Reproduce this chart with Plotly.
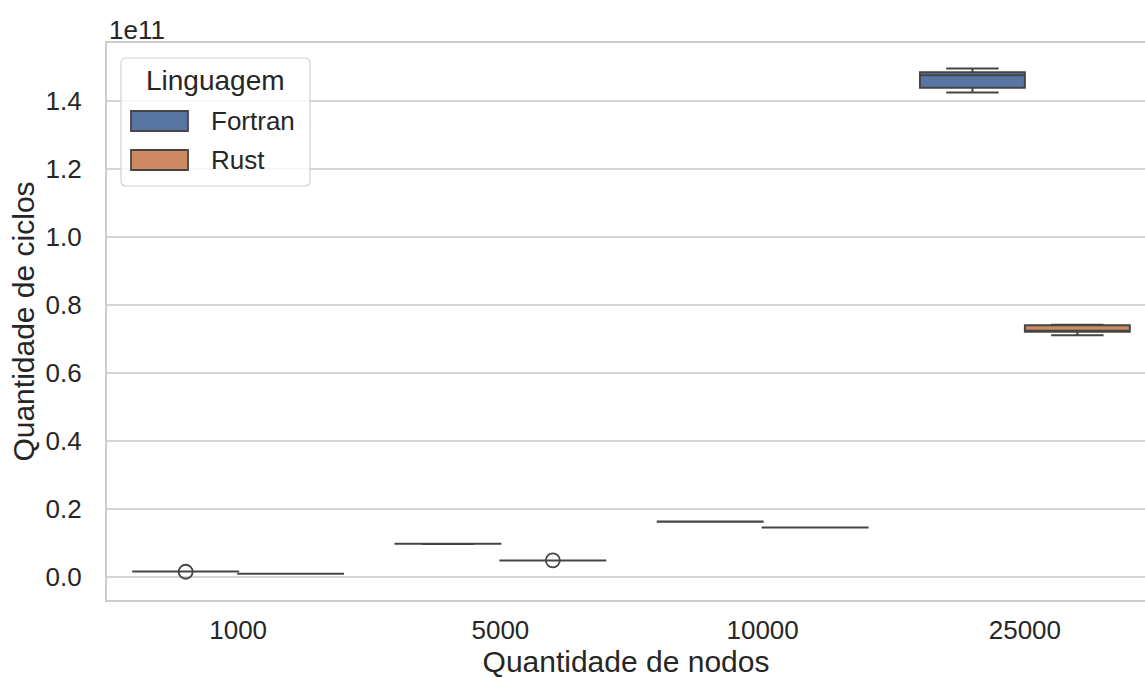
import plotly.graph_objects as go

# Number of nodes per run (categories on the x axis)
nodes = ["1000", "5000", "10000", "25000"]

# Cycle-count summary statistics per language (one entry per node count)
fortran_lower = [1.60e9, 9.74e9, 1.628e10, 1.425e11]
fortran_q1 = [1.61e9, 9.75e9, 1.629e10, 1.4388e11]
fortran_median = [1.62e9, 9.76e9, 1.630e10, 1.4759e11]
fortran_q3 = [1.63e9, 9.77e9, 1.631e10, 1.4847e11]
fortran_upper = [1.64e9, 9.78e9, 1.632e10, 1.4956e11]
fortran_outliers = [[1.55e9], [], [], []]

rust_lower = [0.93e9, 4.84e9, 1.455e10, 7.112e10]
rust_q1 = [0.935e9, 4.845e9, 1.4555e10, 7.212e10]
rust_median = [0.94e9, 4.85e9, 1.456e10, 7.24e10]
rust_q3 = [0.945e9, 4.855e9, 1.4565e10, 7.406e10]
rust_upper = [0.95e9, 4.86e9, 1.457e10, 7.418e10]
rust_outliers = [[], [4.90e9], [], []]

# y-axis ticks, shown in units of 1e11
y_ticks = [0.0, 0.2, 0.4, 0.6, 0.8, 1.0, 1.2, 1.4]
y_scale = 1e11

FONT = "Liberation Sans, Arial, sans-serif"
TEXT = "#262626"
EDGE = "#454545"
SPINE = "#cccccc"
BLUE = "#5975a4"
ORANGE = "#cc8963"

W, H = 1145, 678
ML, MR, MT, MB = 107, 0, 43, 78
PW, PH = W - ML - MR, H - MT - MB

DODGE = 0.2
BOX_W = 0.4


def px_x(px):
    return (px - ML) / PW


def px_y(py):
    return (H - MB - py) / PH


fig = go.Figure()

series = [
    ("Fortran", BLUE, -DODGE, fortran_lower, fortran_q1, fortran_median,
     fortran_q3, fortran_upper, fortran_outliers),
    ("Rust", ORANGE, DODGE, rust_lower, rust_q1, rust_median,
     rust_q3, rust_upper, rust_outliers),
]

for name, color, off, lo, q1, med, q3, hi, outl in series:
    xs = [i + off for i in range(len(nodes))]
    fig.add_trace(go.Box(
        x=xs, q1=q1, median=med, q3=q3, lowerfence=lo, upperfence=hi,
        name=name, width=BOX_W, whiskerwidth=0.5,
        fillcolor=color, line=dict(color=EDGE, width=2),
        boxpoints=False, showlegend=False,
    ))
    ox, oy = [], []
    for i, vals in enumerate(outl):
        for v in vals:
            ox.append(i + off)
            oy.append(v)
    if ox:
        fig.add_trace(go.Scatter(
            x=ox, y=oy, mode="markers", showlegend=False,
            marker=dict(symbol="circle-open", size=14,
                        line=dict(color=EDGE, width=1.8), color=EDGE),
        ))

# Legend panel drawn as shapes and text
lx0, lx1, ly0, ly1, r = 121, 310, 58, 186, 5
path = (
    f"M {px_x(lx0 + r)} {px_y(ly0)} L {px_x(lx1 - r)} {px_y(ly0)} "
    f"Q {px_x(lx1)} {px_y(ly0)} {px_x(lx1)} {px_y(ly0 + r)} "
    f"L {px_x(lx1)} {px_y(ly1 - r)} "
    f"Q {px_x(lx1)} {px_y(ly1)} {px_x(lx1 - r)} {px_y(ly1)} "
    f"L {px_x(lx0 + r)} {px_y(ly1)} "
    f"Q {px_x(lx0)} {px_y(ly1)} {px_x(lx0)} {px_y(ly1 - r)} "
    f"L {px_x(lx0)} {px_y(ly0 + r)} "
    f"Q {px_x(lx0)} {px_y(ly0)} {px_x(lx0 + r)} {px_y(ly0)} Z"
)
shapes = [dict(type="path", path=path, xref="paper", yref="paper",
               fillcolor="rgba(255,255,255,0.8)",
               line=dict(color="#d0d0d0", width=1.2), layer="above")]
annotations = [dict(text="Linguagem", x=px_x(215.5), y=px_y(81),
                    xref="paper", yref="paper", xanchor="center",
                    yanchor="middle", showarrow=False,
                    font=dict(family=FONT, size=28, color=TEXT))]
for k, (name, color, *_rest) in enumerate(series):
    cy = 121 + 39 * k
    shapes.append(dict(type="rect", xref="paper", yref="paper",
                       x0=px_x(131), x1=px_x(188),
                       y0=px_y(cy - 10), y1=px_y(cy + 10),
                       fillcolor=color, line=dict(color=EDGE, width=1.8),
                       layer="above"))
    annotations.append(dict(text=name, x=px_x(209), y=px_y(cy),
                            xref="paper", yref="paper", xanchor="left",
                            yanchor="middle", showarrow=False,
                            font=dict(family=FONT, size=26, color=TEXT)))

# Axis offset text
annotations.append(dict(text="1e11", x=0, y=px_y(30), xref="paper",
                        yref="paper", xanchor="left", yanchor="middle",
                        showarrow=False,
                        font=dict(family=FONT, size=26, color=TEXT)))

fig.update_layout(
    width=W, height=H,
    margin=dict(l=ML, r=MR, t=MT, b=MB, pad=0),
    paper_bgcolor="white", plot_bgcolor="white",
    font=dict(family=FONT, color=TEXT, size=26),
    boxmode="overlay",
    shapes=shapes, annotations=annotations,
    xaxis=dict(
        range=[-0.5, 3.458], tickmode="array",
        tickvals=list(range(len(nodes))), ticktext=nodes,
        showgrid=False, zeroline=False, showline=True, mirror=True,
        linecolor=SPINE, linewidth=2.2, ticks="", ticklabelstandoff=6,
        tickfont=dict(size=26),
        title=dict(text="Quantidade de nodos", font=dict(size=30), standoff=10),
    ),
    yaxis=dict(
        range=[-0.0676e11, 1.5706e11], tickmode="array",
        tickvals=[t * y_scale for t in y_ticks],
        ticktext=[f"{t:.1f}" for t in y_ticks],
        showgrid=True, gridcolor="#d4d4d4", gridwidth=1.8,
        zeroline=False, showline=True, linecolor=SPINE, linewidth=2.2,
        ticks="", ticklabelstandoff=18, tickfont=dict(size=26),
        title=dict(text="Quantidade de ciclos", font=dict(size=30), standoff=2),
    ),
)

fig.write_html("out.html")
